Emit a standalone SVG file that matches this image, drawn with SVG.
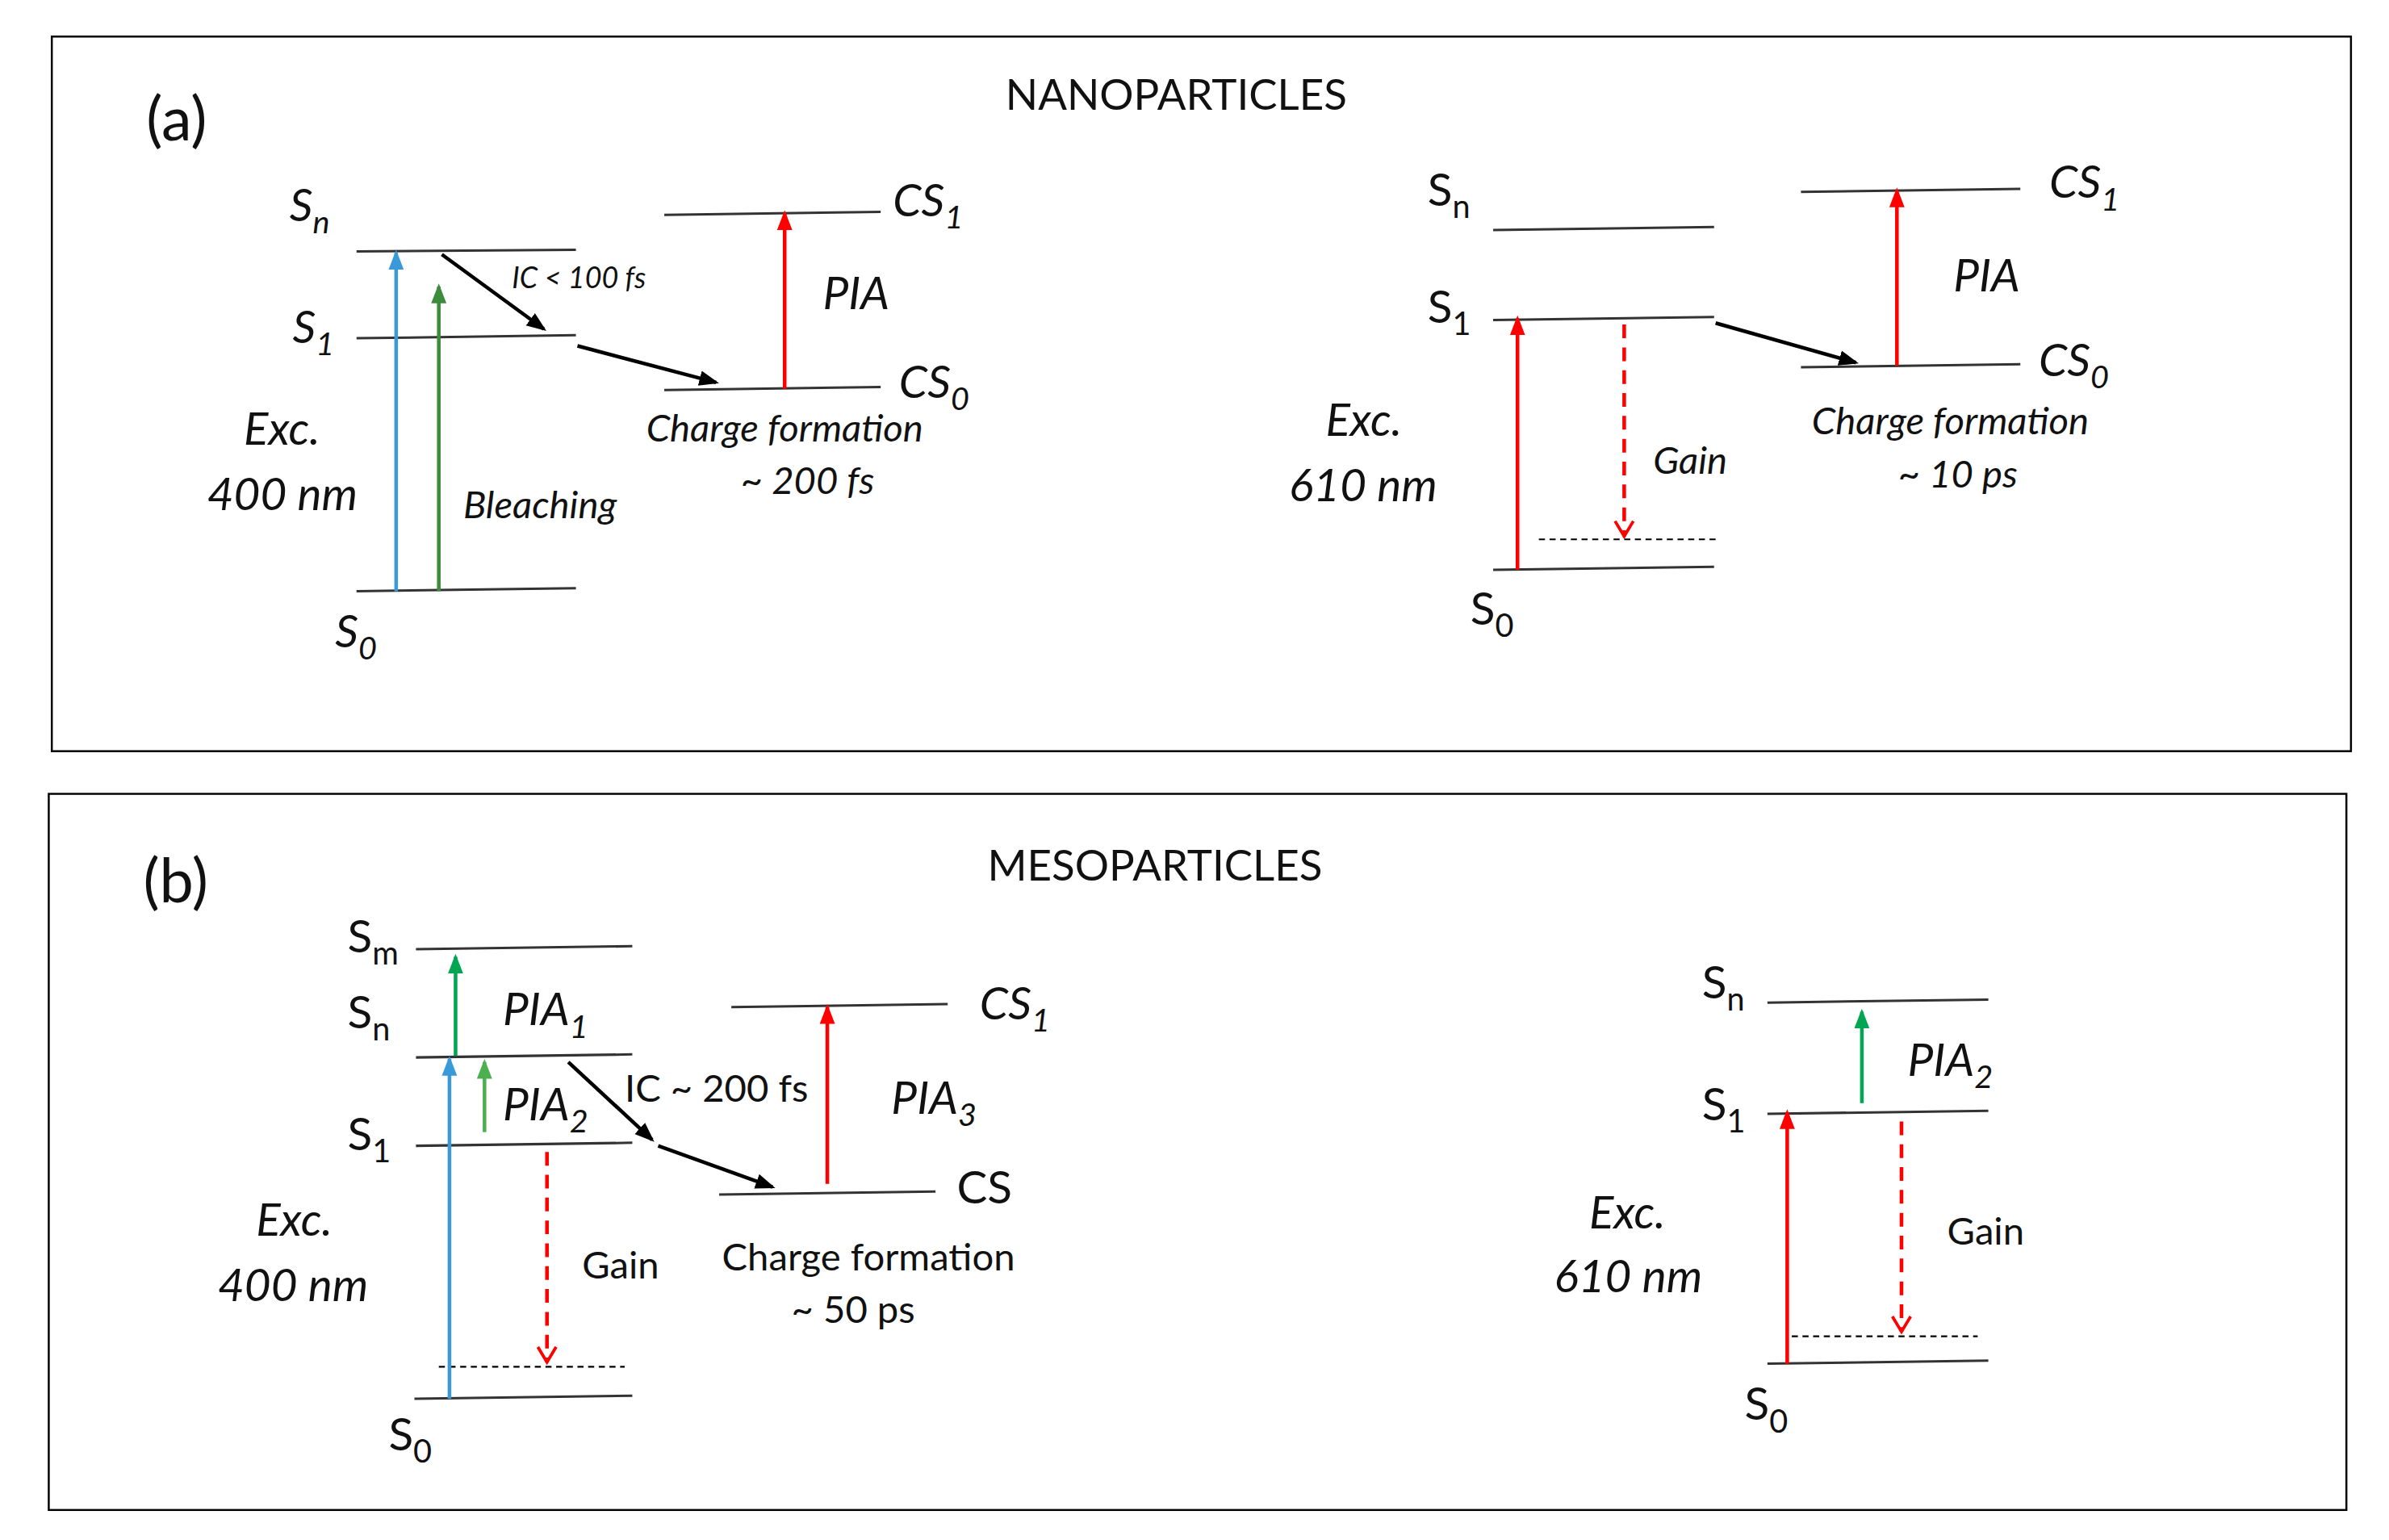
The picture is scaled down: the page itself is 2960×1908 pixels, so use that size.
<svg xmlns="http://www.w3.org/2000/svg" width="2960" height="1908" viewBox="0 0 2960 1908">
<style>
text{font-family:Lato,"Liberation Sans",sans-serif;fill:#111}
.i{font-style:italic}
.lv{stroke:#333;stroke-width:1.6;fill:none}
.fr{stroke:#000;stroke-width:1.3;fill:#fff}
.ar{fill:none;stroke-width:2.4}
.dash{stroke:#000;stroke-width:1.1;stroke-dasharray:4 3;fill:none}
</style>
<defs>
<marker id="hk" markerWidth="14" markerHeight="12" refX="11" refY="6" orient="auto" markerUnits="userSpaceOnUse"><path d="M0,1 L13,6 L0,11 z" fill="#000"/></marker>
<marker id="hr" markerWidth="14" markerHeight="12" refX="11" refY="6" orient="auto" markerUnits="userSpaceOnUse"><path d="M0,1 L13,6 L0,11 z" fill="#f00"/></marker>
<marker id="hb" markerWidth="14" markerHeight="12" refX="11" refY="6" orient="auto" markerUnits="userSpaceOnUse"><path d="M0,1 L13,6 L0,11 z" fill="#3a9ad9"/></marker>
<marker id="hg" markerWidth="14" markerHeight="12" refX="11" refY="6" orient="auto" markerUnits="userSpaceOnUse"><path d="M0,1 L13,6 L0,11 z" fill="#3d8b3d"/></marker>
<marker id="hg2" markerWidth="14" markerHeight="12" refX="11" refY="6" orient="auto" markerUnits="userSpaceOnUse"><path d="M0,1 L13,6 L0,11 z" fill="#00a651"/></marker>
<marker id="hg3" markerWidth="14" markerHeight="12" refX="11" refY="6" orient="auto" markerUnits="userSpaceOnUse"><path d="M0,1 L13,6 L0,11 z" fill="#4caf50"/></marker>
<marker id="hrd" markerWidth="14" markerHeight="14" refX="7" refY="12" orient="0" markerUnits="userSpaceOnUse"><path d="M1,2 L7,12 L13,2" fill="none" stroke="#f00" stroke-width="2"/></marker>
</defs>
<rect width="2960" height="1908" fill="#fff"/>
<g transform="scale(1.8878)">
<g id="panel-a">
<rect class="fr" x="34" y="24" width="1509" height="469"/>
<text x="96" y="92" font-size="40">(a)</text>
<text x="772" y="72" font-size="28" text-anchor="middle">NANOPARTICLES</text>
</g>
<g id="a-left-levels">
<line class="lv" x1="234" y1="165" x2="378" y2="164"/>
<line class="lv" x1="234" y1="222" x2="378" y2="220"/>
<line class="lv" x1="234" y1="388" x2="378" y2="386"/>
<text class="i" x="190" y="145" font-size="30">S<tspan font-size="21" dy="8">n</tspan></text>
<text class="i" x="192" y="225" font-size="30">S<tspan font-size="21" dy="8">1</tspan></text>
<text class="i" x="220" y="425" font-size="30">S<tspan font-size="21" dy="8">0</tspan></text>
<text class="i" x="160" y="292" font-size="30">Exc.</text>
<text class="i" x="136" y="335" font-size="30">400 nm</text>
<text class="i" x="304" y="340" font-size="25">Bleaching</text>
<text class="i" x="336" y="189" font-size="19">IC &lt; 100 fs</text>
</g>
<g id="a-left-cs">
<line class="lv" x1="436" y1="141" x2="578" y2="139"/>
<line class="lv" x1="436" y1="256" x2="578" y2="254"/>
<text class="i" x="586" y="142" font-size="30">CS<tspan font-size="21" dy="8">1</tspan></text>
<text class="i" x="590" y="261" font-size="30">CS<tspan font-size="21" dy="8">0</tspan></text>
<text class="i" x="540" y="203" font-size="30">PIA</text>
<text class="i" x="515" y="290" font-size="25" text-anchor="middle">Charge formation</text>
<text class="i" x="530" y="324" font-size="25" text-anchor="middle">~ 200 fs</text>
</g>
<g id="a-right-levels">
<line class="lv" x1="980" y1="151" x2="1125" y2="149"/>
<line class="lv" x1="980" y1="210" x2="1125" y2="208"/>
<line class="lv" x1="980" y1="374" x2="1125" y2="372"/>
<line class="dash" x1="1010" y1="354" x2="1128" y2="354"/>
<text x="937" y="135" font-size="30">S<tspan font-size="21" dy="8">n</tspan></text>
<text x="937" y="212" font-size="30">S<tspan font-size="21" dy="8">1</tspan></text>
<text x="965" y="410" font-size="30">S<tspan font-size="21" dy="8">0</tspan></text>
<text class="i" x="870" y="286" font-size="30">Exc.</text>
<text class="i" x="846" y="329" font-size="30">610 nm</text>
<text class="i" x="1085" y="311" font-size="25">Gain</text>
</g>
<g id="a-right-cs">
<line class="lv" x1="1182" y1="126" x2="1326" y2="124"/>
<line class="lv" x1="1182" y1="241" x2="1326" y2="239"/>
<text class="i" x="1345" y="130" font-size="30">CS<tspan font-size="21" dy="8">1</tspan></text>
<text class="i" x="1338" y="247" font-size="30">CS<tspan font-size="21" dy="8">0</tspan></text>
<text class="i" x="1282" y="191" font-size="30">PIA</text>
<text class="i" x="1280" y="285" font-size="25" text-anchor="middle">Charge formation</text>
<text class="i" x="1285" y="320" font-size="25" text-anchor="middle">~ 10 ps</text>
</g>
<g id="panel-b">
<rect class="fr" x="32" y="521" width="1508" height="470"/>
<text x="94" y="592" font-size="40">(b)</text>
<text x="758" y="578" font-size="28" text-anchor="middle">MESOPARTICLES</text>
</g>
<g id="b-left-levels">
<line class="lv" x1="273" y1="623" x2="415" y2="621"/>
<line class="lv" x1="273" y1="694" x2="415" y2="692"/>
<line class="lv" x1="273" y1="752" x2="415" y2="750"/>
<line class="lv" x1="272" y1="918" x2="415" y2="916"/>
<line class="dash" x1="288" y1="897" x2="410" y2="897"/>
<text x="228" y="625" font-size="30">S<tspan font-size="21" dy="8">m</tspan></text>
<text x="228" y="675" font-size="30">S<tspan font-size="21" dy="8">n</tspan></text>
<text x="228" y="755" font-size="30">S<tspan font-size="21" dy="8">1</tspan></text>
<text x="255" y="952" font-size="30">S<tspan font-size="21" dy="8">0</tspan></text>
<text class="i" x="330" y="673" font-size="30">PIA<tspan font-size="21" dy="8">1</tspan></text>
<text class="i" x="330" y="735" font-size="30">PIA<tspan font-size="21" dy="8">2</tspan></text>
<text class="i" x="168" y="811" font-size="30">Exc.</text>
<text class="i" x="143" y="854" font-size="30">400 nm</text>
<text x="382" y="839" font-size="25">Gain</text>
<text x="410" y="723" font-size="25">IC ~ 200 fs</text>
</g>
<g id="b-left-cs">
<line class="lv" x1="480" y1="661" x2="622" y2="659"/>
<line class="lv" x1="472" y1="784" x2="614" y2="782"/>
<text class="i" x="643" y="669" font-size="30">CS<tspan font-size="21" dy="8">1</tspan></text>
<text x="628" y="790" font-size="30">CS</text>
<text class="i" x="585" y="731" font-size="30">PIA<tspan font-size="21" dy="8">3</tspan></text>
<text x="570" y="834" font-size="25" text-anchor="middle">Charge formation</text>
<text x="560" y="868" font-size="25" text-anchor="middle">~ 50 ps</text>
</g>
<g id="b-right-levels">
<line class="lv" x1="1160" y1="658" x2="1305" y2="656"/>
<line class="lv" x1="1160" y1="731" x2="1305" y2="729"/>
<line class="lv" x1="1160" y1="895" x2="1305" y2="893"/>
<line class="dash" x1="1176" y1="877" x2="1298" y2="877"/>
<text x="1117" y="655" font-size="30">S<tspan font-size="21" dy="8">n</tspan></text>
<text x="1117" y="735" font-size="30">S<tspan font-size="21" dy="8">1</tspan></text>
<text x="1145" y="932" font-size="30">S<tspan font-size="21" dy="8">0</tspan></text>
<text class="i" x="1252" y="706" font-size="30">PIA<tspan font-size="21" dy="8">2</tspan></text>
<text class="i" x="1043" y="806" font-size="30">Exc.</text>
<text class="i" x="1020" y="848" font-size="30">610 nm</text>
<text x="1278" y="817" font-size="25">Gain</text>
</g>
<g id="connectors">
<line class="ar" x1="260" y1="388" x2="260" y2="166" stroke="#3a9ad9" stroke-width="3.5" marker-end="url(#hb)"/>
<line class="ar" x1="288" y1="388" x2="288" y2="188" stroke="#3d8b3d" stroke-width="2.6" marker-end="url(#hg)"/>
<line class="ar" x1="290" y1="167" x2="357" y2="216" stroke="#000" stroke-width="1.4" marker-end="url(#hk)"/>
<line class="ar" x1="379" y1="227" x2="470" y2="251" stroke="#000" stroke-width="1.4" marker-end="url(#hk)"/>
<line class="ar" x1="515" y1="255" x2="515" y2="140" stroke="#f00" marker-end="url(#hr)"/>
<line class="ar" x1="996" y1="374" x2="996" y2="209" stroke="#f00" stroke-width="4.5" marker-end="url(#hr)"/>
<line class="ar" x1="1066" y1="213" x2="1066" y2="352" stroke="#f00" stroke-dasharray="9 6" marker-end="url(#hrd)"/>
<line class="ar" x1="1126" y1="212" x2="1218" y2="238" stroke="#000" stroke-width="1.4" marker-end="url(#hk)"/>
<line class="ar" x1="1245" y1="240" x2="1245" y2="125" stroke="#f00" marker-end="url(#hr)"/>
<line class="ar" x1="295" y1="918" x2="295" y2="695" stroke="#3a9ad9" stroke-width="3.5" marker-end="url(#hb)"/>
<line class="ar" x1="299" y1="693" x2="299" y2="628" stroke="#00a651" stroke-width="2.8" marker-end="url(#hg2)"/>
<line class="ar" x1="318" y1="743" x2="318" y2="697" stroke="#4caf50" stroke-width="2.2" marker-end="url(#hg3)"/>
<line class="ar" x1="359" y1="756" x2="359" y2="894" stroke="#f00" stroke-dasharray="9 6" marker-end="url(#hrd)"/>
<line class="ar" x1="373" y1="697" x2="428" y2="748" stroke="#000" stroke-width="1.4" marker-end="url(#hk)"/>
<line class="ar" x1="432" y1="752" x2="507" y2="779" stroke="#000" stroke-width="1.4" marker-end="url(#hk)"/>
<line class="ar" x1="543" y1="777" x2="543" y2="661" stroke="#f00" marker-end="url(#hr)"/>
<line class="ar" x1="1173" y1="895" x2="1173" y2="730" stroke="#f00" stroke-width="4.5" marker-end="url(#hr)"/>
<line class="ar" x1="1222" y1="724" x2="1222" y2="664" stroke="#00a651" stroke-width="2.6" marker-end="url(#hg2)"/>
<line class="ar" x1="1248" y1="736" x2="1248" y2="874" stroke="#f00" stroke-dasharray="9 6" marker-end="url(#hrd)"/>
</g>
</g>
</svg>
